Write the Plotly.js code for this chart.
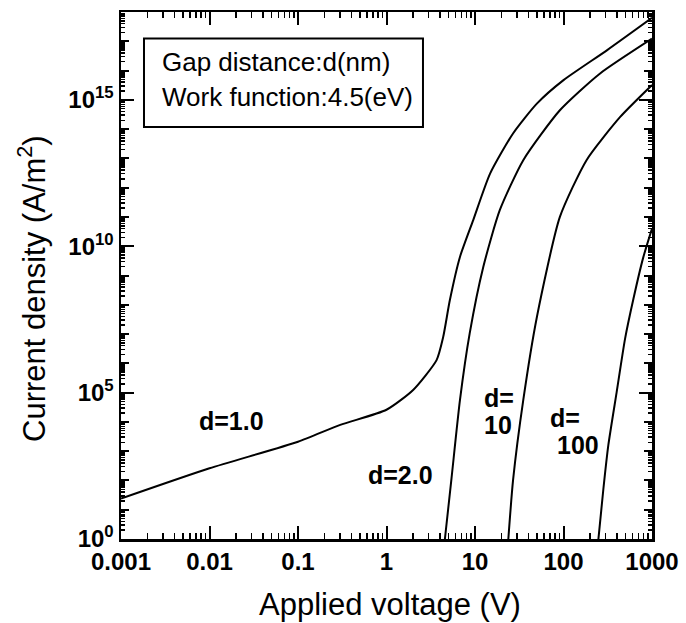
<!DOCTYPE html>
<html>
<head>
<meta charset="utf-8">
<script src="https://cdn.plot.ly/plotly-3.0.1.min.js"></script>
<style>html,body{margin:0;padding:0;background:#fff;}#chart{width:686px;height:623px;}</style>
</head>
<body>
<div id="chart"></div>
<script>
// Applied voltage (V) and current density (A/m^2) for each gap distance d (nm)
var v_d1 = [0.001, 0.01, 0.1, 0.3, 1, 2.0, 3.68, 4.37, 5.2, 6.76, 9.55, 14.8, 26.9, 50, 100, 309, 1000];
var j_d1 = [2.4e1, 2.6e2, 2.1e3, 7.9e3, 2.6e4, 1.23e5, 1.29e6, 7.9e6, 1.45e8, 4.3e9, 7.8e10, 3.0e12, 7.1e13, 7.4e14, 4.7e15, 4.9e16, 6.3e17];

var v_d2 = [4.57, 5.43, 6.76, 8.71, 12.4, 19.05, 35.1, 91, 257, 1000];
var j_d2 = [1, 1.2e2, 5.5e4, 1.05e7, 1.95e9, 1.7e11, 8.7e12, 4.4e14, 7.8e15, 1.23e17];

var v_d10 = [23.8, 26.9, 35.1, 50.1, 91, 182, 437, 1000];
var j_d10 = [1, 1.0e2, 5.5e4, 3.9e7, 1.0e11, 8.7e12, 2.6e14, 3.2e15];

var v_d100 = [248, 282, 321, 398, 497, 617, 794, 1000];
var j_d100 = [1, 5e1, 1.6e3, 1.0e5, 7.1e6, 1.6e8, 4.0e9, 4.0e10];

var xTickVals = [0.001, 0.01, 0.1, 1, 10, 100, 1000];
var xTickText = ['0.001', '0.01', '0.1', '1', '10', '100', '1000'];
var yTickVals = [1, 1e5, 1e10, 1e15];
var yTickText = ['10<sup>0</sup>', '10<sup>5</sup>', '10<sup>10</sup>', '10<sup>15</sup>'];

var curveLabels = [
  {text: 'd=1.0', x: 0.2085, y: 0.2239, xanchor: 'center'},
  {text: 'd=2.0', x: 0.527, y: 0.1214, xanchor: 'center'},
  {text: 'd=', x: 0.6793, y: 0.2676, xanchor: 'left'},
  {text: '10', x: 0.6793, y: 0.2163, xanchor: 'left'},
  {text: 'd=', x: 0.8047, y: 0.2296, xanchor: 'left'},
  {text: '100', x: 0.8173, y: 0.1784, xanchor: 'left'}
];
var boxLines = ['Gap distance:d(nm)', 'Work function:4.5(eV)'];

// tick positions (decades and sub-decades)
var decades = [], xMinor = [], yMinor = [];
for (var e = 0; e <= 18; e++) decades.push(Math.pow(10, e));
for (var e = -3; e < 3; e++) for (var m = 2; m <= 9; m++) xMinor.push(m * Math.pow(10, e));
for (var e = 0; e < 18; e++) for (var m = 2; m <= 9; m++) yMinor.push(m * Math.pow(10, e));

var FONT = 'Liberation Sans, Arial, Helvetica, sans-serif';
function tr(x, y) {
  return {x: x, y: y, type: 'scatter', mode: 'lines', line: {color: '#000', width: 2, shape: 'spline', smoothing: 0.6}, hoverinfo: 'skip'};
}
var data = [tr(v_d1, j_d1), tr(v_d2, j_d2), tr(v_d10, j_d10), tr(v_d100, j_d100),
  {x: [], y: [], type: 'scatter', mode: 'lines', yaxis: 'y2', hoverinfo: 'skip'}];

var annotations = [];
curveLabels.forEach(function (c) {
  annotations.push({text: c.text, xref: 'paper', yref: 'paper', x: c.x, y: c.y, xanchor: c.xanchor, yanchor: 'middle', showarrow: false, font: {family: FONT, size: 25, color: '#000', weight: 'bold'}});
});
annotations.push({text: boxLines[0], xref: 'paper', yref: 'paper', x: 0.0734, y: 0.9057, xanchor: 'left', yanchor: 'middle', showarrow: false, font: {family: FONT, size: 26, color: '#000'}});
annotations.push({text: boxLines[1], xref: 'paper', yref: 'paper', x: 0.0734, y: 0.8387, xanchor: 'left', yanchor: 'middle', showarrow: false, font: {family: FONT, size: 26, color: '#000'}});
annotations.push({text: 'Applied voltage (V)', xref: 'paper', yref: 'paper', x: 0.5066, y: -0.125, xanchor: 'center', yanchor: 'middle', showarrow: false, font: {family: FONT, size: 31, color: '#000'}});
annotations.push({text: 'Current density (A/m<sup>2</sup>)', xref: 'paper', yref: 'paper', x: -0.1676, y: 0.4744, xanchor: 'center', yanchor: 'middle', textangle: -90, showarrow: false, font: {family: FONT, size: 31, color: '#000'}});

var layout = {
  width: 686, height: 623,
  margin: {l: 121, r: 34, t: 12, b: 84, pad: 0},
  paper_bgcolor: '#fff', plot_bgcolor: '#fff',
  showlegend: false,
  font: {family: FONT, color: '#000'},
  xaxis: {
    type: 'log', range: [-3, 3], showgrid: false, zeroline: false,
    showline: true, linecolor: '#000', linewidth: 2.5, mirror: 'ticks',
    ticks: 'inside', ticklen: 13, tickwidth: 2, tickcolor: '#000',
    tickmode: 'array', tickvals: xTickVals, ticktext: xTickText,
    tickfont: {family: FONT, size: 24, color: '#000', weight: 'bold'},
    minor: {ticks: 'inside', ticklen: 6, tickwidth: 1.5, tickcolor: '#000', tickmode: 'array', tickvals: xMinor, showgrid: false}
  },
  yaxis: {
    type: 'log', range: [0, 18], showgrid: false, zeroline: false,
    showline: true, linecolor: '#000', linewidth: 2.5, mirror: 'ticks',
    ticks: 'inside', ticklen: 13, tickwidth: 2, tickcolor: '#000',
    tickmode: 'array', tickvals: yTickVals, ticktext: yTickText,
    tickfont: {family: FONT, size: 24, color: '#000', weight: 'bold'},
    minor: {ticks: 'inside', ticklen: 4, tickwidth: 1.5, tickcolor: '#000', tickmode: 'array', tickvals: yMinor, showgrid: false}
  },
  yaxis2: {
    type: 'log', range: [0, 18], overlaying: 'y', side: 'left', anchor: 'x',
    showgrid: false, zeroline: false, showline: false, mirror: 'ticks',
    ticks: 'inside', ticklen: 8, tickwidth: 2, tickcolor: '#000',
    tickmode: 'array', tickvals: decades, showticklabels: false
  },
  shapes: [{type: 'rect', xref: 'paper', yref: 'paper', x0: 0.0433, x1: 0.5687, y0: 0.7818, y1: 0.9497, line: {color: '#000', width: 2}, fillcolor: 'rgba(0,0,0,0)'}],
  annotations: annotations
};
Plotly.newPlot('chart', data, layout, {displayModeBar: false, staticPlot: true});
</script>
</body>
</html>
